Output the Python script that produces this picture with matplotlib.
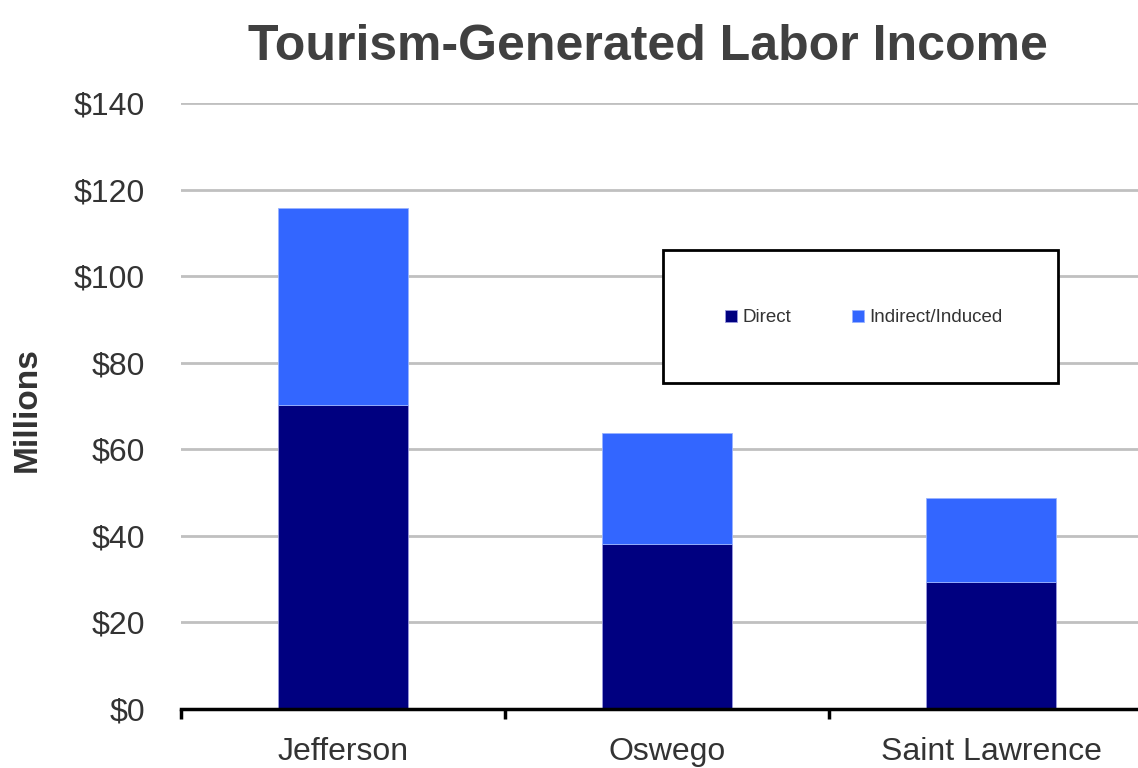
import matplotlib
matplotlib.use("Agg")
import matplotlib.pyplot as plt
from matplotlib.patches import Rectangle

categories = ["Jefferson", "Oswego", "Saint Lawrence"]
direct = [70.2, 38.1, 29.3]
indirect = [45.5, 25.6, 19.4]
series_names = ["Direct", "Indirect/Induced"]
yticks = [0, 20, 40, 60, 80, 100, 120, 140]
ytick_labels = ["$0", "$20", "$40", "$60", "$80", "$100", "$120", "$140"]

plt.rcParams['font.family'] = ['Liberation Sans', 'DejaVu Sans']

W, H = 1138, 768
fig = plt.figure(figsize=(W / 100, H / 100), dpi=100)
left = 181 / W
right = 1153 / W
bottom = (H - 709) / H
top = (H - 103) / H
ax = fig.add_axes([left, bottom, right - left, top - bottom])

x = list(range(len(categories)))
ax.bar(x, direct, width=0.40, color="#000080", edgecolor="#9999dd", linewidth=0.6,
       label=series_names[0], zorder=3)
ax.bar(x, indirect, width=0.40, bottom=direct, color="#3366FF", edgecolor="#99b3ff",
       linewidth=0.6, label=series_names[1], zorder=3)

ax.set_xlim(-0.5, 2.5)
ax.set_ylim(0, 140)
ax.set_yticks(yticks)
ax.set_yticklabels(ytick_labels, fontsize=23, color="#333333")
ax.tick_params(axis='y', length=0, pad=26)
ax.set_xticks(x)
ax.set_xticklabels(categories, fontsize=23, color="#333333")
ax.tick_params(axis='x', which='major', length=0, pad=20)
ax.set_xticks([-0.5, 0.5, 1.5, 2.5], minor=True)
ax.tick_params(axis='x', which='minor', length=7, width=2.5, color="black", direction='out')

ax.grid(axis='y', color="#C0C0C0", linewidth=2, zorder=0)
ax.set_axisbelow(True)
for s in ["top", "right", "left"]:
    ax.spines[s].set_visible(False)
ax.spines["bottom"].set_linewidth(2.5)
ax.spines["bottom"].set_color("black")
ax.spines["bottom"].set_zorder(4)

fig.text(27 / W, (H - 410) / H, "Millions", rotation=90, fontsize=24, fontweight='bold',
         color="#333333", ha='center', va='center')
fig.text(648 / W, (H - 47) / H, "Tourism-Generated Labor Income", fontsize=36,
         fontweight='bold', color="#404040", ha='center', va='center')

# legend box
bx0, by0, bx1, by1 = 663, 250, 1058, 383
rect = Rectangle((bx0 / W, (H - by1) / H), (bx1 - bx0) / W, (by1 - by0) / H,
                 transform=fig.transFigure, facecolor="white", edgecolor="black",
                 linewidth=2, zorder=10)
fig.patches.append(rect)
leg = fig.legend(loc='center left', bbox_to_anchor=(725 / W, (H - 318) / H),
                 ncol=2, frameon=False, fontsize=13.5, handlelength=0.65, handleheight=0.65,
                 handletextpad=0.3, columnspacing=3.2, borderpad=0, borderaxespad=0)
leg.set_zorder(11)
for t in leg.get_texts():
    t.set_color("#333333")

fig.savefig("out.png", dpi=100)
